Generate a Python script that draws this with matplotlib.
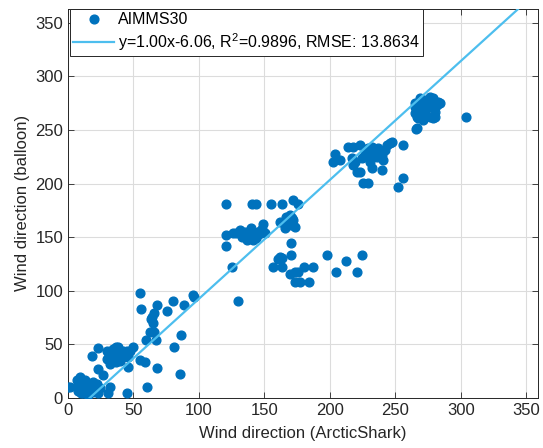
import numpy as np
import matplotlib
matplotlib.use("Agg")
import matplotlib.pyplot as plt

plt.rcParams['font.family'] = ['Liberation Sans', 'DejaVu Sans']
plt.rcParams['mathtext.fontset'] = 'custom'
plt.rcParams['mathtext.rm'] = 'Liberation Sans'
plt.rcParams['mathtext.default'] = 'regular'

# wind direction, ArcticShark (x) vs balloon (y)
x_shark = [
    # low cluster
    0, 1.5, 6.6, 13, 9.2, 7.9, 11.7, 15.5, 19.3, 21.9, 16.8, 13, 10.4, 9.2, 19.3,
    24.4, 23.2, 14.2, 18.1, 11.7, 12, 15, 17, 20, 8, 14, 22, 10,
    32.1, 30.8, 44.8, 23.2, 27, 23.2, 18.1,
    # cluster around 40
    29.5, 34.6, 37.1, 32.1, 35.9, 39.7, 42.2, 42.2, 34.6, 37.1, 32.1, 39.7, 44.8,
    47.3, 49.9, 46, 29.5, 38.4, 36, 40, 33, 44, 31, 38,
    46.1, 55, 58.8,
    # 55..100
    55, 56.2, 68.2, 80.4, 88.6, 95.7, 96.2, 75.8, 65.9, 63.9, 63.1, 65.1, 62.6,
    65.9, 59.5, 66.9, 86, 80.9, 85.5, 68.2, 60.1,
    # 120..180
    120.8, 140.2, 143.3, 155.2, 163.4, 171.5, 175.8, 121, 121, 125, 130,
    126.1, 131.2, 133.7, 136.3, 140.1, 141.3, 143.9, 145.2, 147.7, 149, 150.3,
    138.8, 141.3, 128, 135, 138, 142, 146, 139, 144, 133, 148, 137,
    161.8, 166.9, 169.5, 170.7, 173.3, 165.6, 172, 168.2, 167, 171,
    170.7, 170.7, 161.8, 163.8, 160.5, 156.7, 163.6, 180, 186.8, 169.5, 173.3,
    175.8, 173.3, 177.1, 184.2, 197.5, 212, 224.7, 204.6, 220.8,
    # 200..260
    203.8, 202.6, 207.7, 214, 217.9, 223, 216.6, 219.1, 217.9, 220.4, 223, 225.4,
    229.3, 226.8, 229.3, 231.9, 233.2, 234.5, 237, 235.7, 239.5, 242.1, 243.4,
    245.9, 247.2, 240.8, 231.9, 239.5, 228.1, 224.2, 230.6, 252.2, 256,
    # 260..285
    264.9, 268.7, 272.5, 276.4, 278.9, 281.5, 280.2, 273.8, 268.7, 266.2, 271.3,
    276.4, 280.2, 266.2, 270, 275.1, 264.9, 268.7, 278.9, 282.8, 266.2, 270,
    277.6, 264.9, 267.5, 272.5, 278.9, 284,
    304.3, 265.6, 255.5,
]
y_balloon = [
    10, 9.9, 16.3, 16.3, 19.3, 10.6, 12.1, 13.7, 15.2, 10.6, 7.5, 5.9, 4.4, 9, 5.9,
    9, 4.4, 10.6, 12.1, 4.4, 8, 3, 10, 8, 6, 14, 13, 12,
    9.9, 4.4, 4.4, 27.2, 21, 46.3, 38.6,
    44, 45.6, 47.1, 40.9, 44, 40.9, 44, 37.8, 34.7, 33.1, 31.6, 34.7, 44,
    44, 47.1, 37.8, 36.2, 47.1, 38, 37, 37, 41, 43, 43,
    28.6, 35.5, 33.9,
    97.6, 82.7, 86.7, 90.5, 86.2, 96.1, 94.5, 81.5, 79, 75.9, 73.4, 69.7, 61.9,
    61.9, 54.1, 54.1, 58.8, 47, 22.1, 28.3, 9.9,
    181, 181, 181, 181, 181, 184.7, 181, 152, 141.8, 122.5, 90,
    153.6, 156.7, 152, 150.5, 158.3, 153.6, 150.5, 155.2, 156.7, 162.3, 153.6,
    148.9, 147.4, 154, 155, 152, 150, 153, 156, 149, 150, 158, 147,
    164.5, 168.5, 170.7, 161.4, 159.9, 158.3, 166, 164.5, 162, 168,
    144.9, 133.7, 131.9, 130.3, 129.4, 122.5, 122.5, 122.5, 122.5, 115.7, 117,
    117.9, 107.9, 107.9, 107.9, 133.7, 128, 133.7, 117.8, 117.8,
    227.6, 220.5, 222, 234.4, 233.8, 236, 223.6, 220.5, 217.4, 211.1, 211.1, 200.3,
    200.3, 229.8, 232.9, 234.4, 228.2, 231.3, 232.9, 225.1, 226.6, 231.3, 236,
    237.5, 239.1, 222, 214.9, 212.7, 225.1, 223.6, 220.5, 197.1, 204.9,
    271.8, 274.9, 278, 281.1, 276.4, 273.3, 267.2, 270.3, 267.2, 262.5, 259.4,
    262.5, 262.5, 251.6, 265.6, 274.9, 274.9, 279.5, 279.5, 276.4, 268.7, 271.8,
    273.3, 265.6, 260.9, 264.1, 260.9, 274.9,
    262.5, 250.9, 236,
]

# fitted line as it is drawn in the figure
fit_slope = 1.11
fit_icpt = -18.6
fit_label = 'y=1.00x-6.06, R$^2$=0.9896, RMSE: 13.8634'

ticks = [0, 50, 100, 150, 200, 250, 300, 350]
dark = '#262626'

fig = plt.figure(figsize=(5.43, 4.48), dpi=100)
ax = fig.add_axes([0.125, 0.112, 0.866, 0.868])

ax.plot(x_shark, y_balloon, 'o', color='#0072BD', markersize=6.3, label='AIMMS30', zorder=3)
xl = np.array([0, 360])
ax.plot(xl, fit_slope * xl + fit_icpt, '-', color='#4DBEEE', lw=1.6, label=fit_label, zorder=4)

ax.set_xlim(0, 359)
ax.set_ylim(0, 363)
ax.set_xticks(ticks)
ax.set_yticks(ticks)
ax.grid(True, color='#dcdcdc', lw=0.8)
ax.set_axisbelow(True)
ax.tick_params(direction='in', top=True, right=True, length=4, width=0.6,
               labelsize=12, colors=dark, labelcolor=dark)
for s in ax.spines.values():
    s.set_color(dark)
    s.set_linewidth(0.7)

ax.set_xlabel('Wind direction (ArcticShark)', fontsize=12, color=dark, labelpad=6)
ax.set_ylabel('Wind direction (balloon)', fontsize=12, color=dark, labelpad=4)

leg = ax.legend(loc='upper left', bbox_to_anchor=(0.004, 1.0), borderaxespad=0,
                fontsize=11.5, fancybox=False, framealpha=1, edgecolor=dark,
                handlelength=2.6, handletextpad=0.2, labelspacing=0.25,
                borderpad=0.2, labelcolor='black')
leg.get_frame().set_linewidth(0.7)

fig.savefig('out.png', dpi=100)
